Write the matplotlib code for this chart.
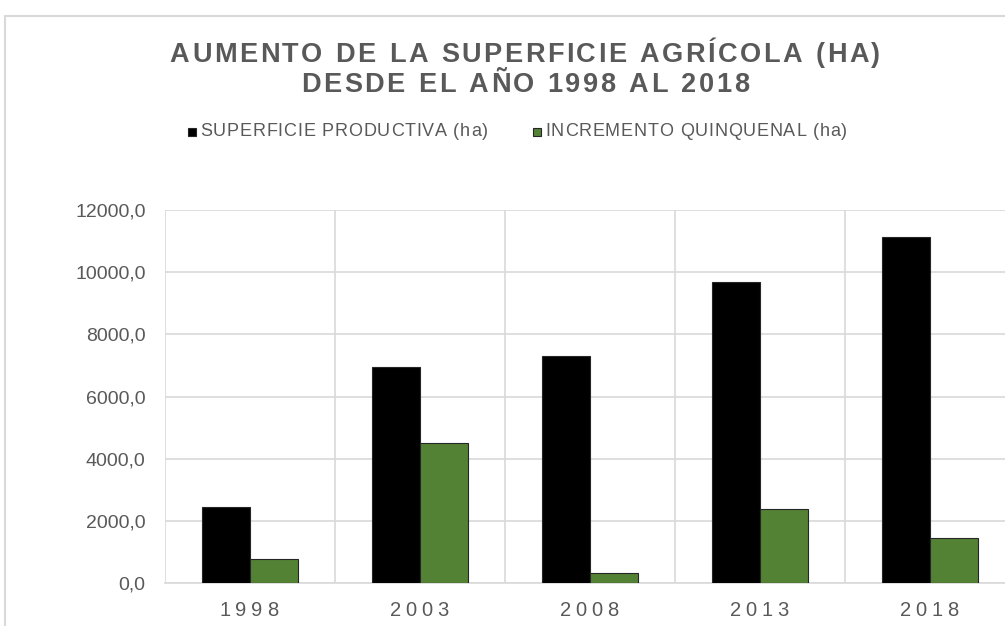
import matplotlib.pyplot as plt
from matplotlib.patches import Rectangle
from matplotlib.ticker import FuncFormatter

years = ["1998", "2003", "2008", "2013", "2018"]
superficie = [2450, 6950, 7300, 9680, 11120]
incremento = [770, 4500, 320, 2370, 1440]
series_names = ["SUPERFICIE PRODUCTIVA (ha)", "INCREMENTO QUINQUENAL (ha)"]

gray_txt = "#595959"
grid_col = "#d9d9d9"
green = "#548235"
plt.rcParams["font.family"] = ["Liberation Sans", "DejaVu Sans"]

W, H = 1005, 626
fig = plt.figure(figsize=(W / 100, H / 100), dpi=100)

# axes runs past the right edge like the cropped original
ax = fig.add_axes([165 / W, 43 / H, 850 / W, 373 / H])
x = list(range(len(years)))
bw = 0.285
ax.bar([i - bw / 2 for i in x], superficie, bw, color="black", edgecolor="#262626", linewidth=0.8, zorder=3)
ax.bar([i + bw / 2 for i in x], incremento, bw, color=green, edgecolor="#262626", linewidth=0.8, zorder=3)

ax.set_xlim(-0.5, 4.5)
ax.set_ylim(0, 12000)
ax.set_yticks(range(0, 12001, 2000))
ax.yaxis.set_major_formatter(FuncFormatter(lambda v, p: f"{v:.1f}".replace(".", ",")))
ax.set_xticks(x)
ax.set_xticklabels([])
ax.set_xticks([i - 0.5 for i in range(len(years) + 1)], minor=True)
ax.grid(axis="y", color=grid_col, linewidth=1.2, zorder=0)
ax.grid(axis="x", which="minor", color=grid_col, linewidth=1.2, zorder=0)
ax.tick_params(axis="both", which="both", length=0)
ax.tick_params(axis="y", labelsize=14, labelcolor=gray_txt, pad=14)
for s in ["top", "right", "left"]:
    ax.spines[s].set_visible(False)
ax.spines["bottom"].set_color(grid_col)
ax.spines["bottom"].set_linewidth(1.2)

renderer = fig.canvas.get_renderer()


def spaced_text(s, x0, cy, spacing, align="center", **kw):
    # draw text char by char with extra letter spacing (pixel coords)
    widths = []
    for ch in s:
        t = fig.text(0, 0, ch if ch != " " else "n", **kw)
        w = t.get_window_extent(renderer).width
        if ch == " ":
            w *= 0.5
        widths.append(w)
        t.remove()
    total = sum(widths) + spacing * (len(s) - 1)
    xpos = x0 - total / 2 if align == "center" else x0
    for ch, w in zip(s, widths):
        if ch != " ":
            fig.text(xpos / W, 1 - cy / H, ch, ha="left", va="center", **kw)
        xpos += w + spacing


spaced_text("AUMENTO DE LA SUPERFICIE AGRÍCOLA (HA)", 525, 55, 2.5,
            fontsize=19.5, fontweight="bold", color=gray_txt)
spaced_text("DESDE EL AÑO 1998 AL 2018", 525, 85, 2.5,
            fontsize=19.5, fontweight="bold", color=gray_txt)

for i, y in enumerate(years):
    cx = 165 + 170 * (i + 0.5)
    spaced_text(y, cx - 1, 610, 4.5, fontsize=14.5, color=gray_txt)

# legend
leg_x = [188, 533]
for name, col, lx in zip(series_names, ["black", green], leg_x):
    fig.patches.append(Rectangle((lx / W, 1 - 136 / H), 8 / W, 8 / H, transform=fig.transFigure,
                                 facecolor=col, edgecolor="#262626", linewidth=0.8))
    spaced_text(name, lx + 12, 132, 0.8, align="left", fontsize=13, color=gray_txt)

# chart frame
fig.patches.append(Rectangle((5 / W, -0.1), 1.2, 1 - 16 / H + 0.1, transform=fig.transFigure,
                             fill=False, edgecolor=grid_col, linewidth=1.5))

fig.savefig("out.png", dpi=100)
